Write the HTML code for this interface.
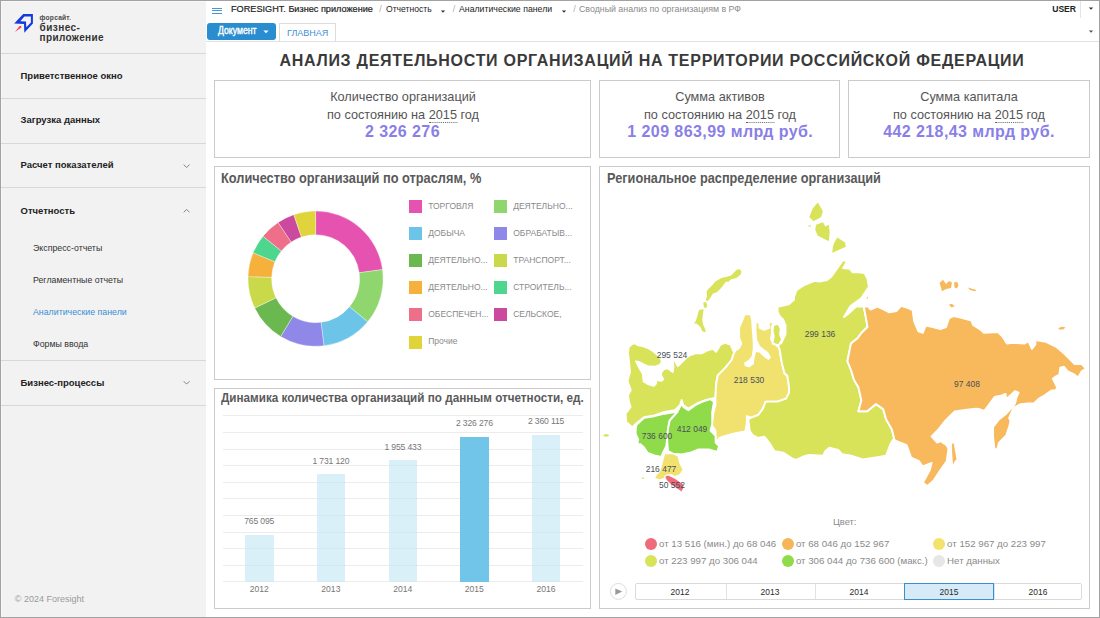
<!DOCTYPE html>
<html><head><meta charset="utf-8"><style>
html,body{margin:0;padding:0;}
body{width:1100px;height:618px;overflow:hidden;position:relative;background:#fff;font-family:"Liberation Sans", sans-serif;}
.t{position:absolute;white-space:nowrap;font-family:"Liberation Sans", sans-serif;}
.r{position:absolute;}
svg.r{overflow:visible;}
</style></head><body>
<div class="r" style="left:0px;top:0px;width:1100px;height:618px;background:#fff;"></div>
<div class="r" style="left:0px;top:0px;width:206px;height:618px;background:#f2f2f2;"></div>
<div class="r" style="left:1px;top:1px;width:1px;height:616px;background:#f8f8f8;"></div>
<div class="r" style="left:1px;top:1px;width:205px;height:1px;background:#f8f8f8;"></div>
<div class="r" style="left:1px;top:53px;width:205px;height:1px;background:#d8d8dc;"></div>
<div class="r" style="left:1px;top:98px;width:205px;height:1px;background:#d8d8dc;"></div>
<div class="r" style="left:1px;top:143px;width:205px;height:1px;background:#d8d8dc;"></div>
<div class="r" style="left:1px;top:187px;width:205px;height:1px;background:#d8d8dc;"></div>
<div class="r" style="left:1px;top:360px;width:205px;height:1px;background:#d8d8dc;"></div>
<div class="r" style="left:1px;top:405px;width:205px;height:1px;background:#d8d8dc;"></div>
<svg class="r" style="left:10px;top:10px" width="30" height="30" viewBox="10 10 30 30">
<path fill-rule="evenodd" fill="#1439dc" d="M14.2,23.5 L23.2,14 L32.9,14 L32.9,23.4 L24.3,32.7 L24,24.1 Z M20.3,21.2 L24.4,16.4 L30.9,16.4 L30.9,22.6 L26.3,27.3 L26,21.6 Z"/>
<path d="M15.0,31.9 L19.1,26.5 Q21.6,24.7 21.4,27.6 Z" fill="#ff3d6e"/>
</svg>
<div class="t" style="top:13.96px;font-size:6.7px;line-height:8.04px;font-weight:bold;color:#4a4a4a;letter-spacing:0.2px;left:39.6px;">форсайт<span style="color:#ff3d6e">.</span></div>
<div class="t" style="top:21.93px;font-size:10px;line-height:12.0px;font-weight:bold;color:#333;letter-spacing:0.45px;left:39.6px;">бизнес-</div>
<div class="t" style="top:31.54px;font-size:10px;line-height:12.0px;font-weight:bold;color:#333;letter-spacing:0.35px;left:39.6px;">приложение</div>
<div class="t" style="top:70.21px;font-size:9.5px;line-height:11.4px;font-weight:bold;color:#222;left:20.5px;">Приветственное окно</div>
<div class="t" style="top:114.41px;font-size:9.5px;line-height:11.4px;font-weight:bold;color:#222;left:20.5px;">Загрузка данных</div>
<div class="t" style="top:159.11px;font-size:9.5px;line-height:11.4px;font-weight:bold;color:#222;left:20.5px;">Расчет показателей</div>
<div class="t" style="top:204.61px;font-size:9.5px;line-height:11.4px;font-weight:bold;color:#222;left:20.5px;">Отчетность</div>
<div class="t" style="top:243.27px;font-size:8.8px;line-height:10.56px;font-weight:normal;color:#333;left:33px;">Экспресс-отчеты</div>
<div class="t" style="top:275.07px;font-size:8.8px;line-height:10.56px;font-weight:normal;color:#333;left:33px;">Регламентные отчеты</div>
<div class="t" style="top:306.87px;font-size:8.8px;line-height:10.56px;font-weight:normal;color:#3a8ed3;left:33px;">Аналитические панели</div>
<div class="t" style="top:339.47px;font-size:8.8px;line-height:10.56px;font-weight:normal;color:#333;left:33px;">Формы ввода</div>
<div class="t" style="top:376.81px;font-size:9.5px;line-height:11.4px;font-weight:bold;color:#222;left:20.5px;">Бизнес-процессы</div>
<svg class="r" style="left:0;top:0" width="206" height="618"><path d="M183.7,164.6 L186.6,167.5 L189.5,164.6" fill="none" stroke="#7c7c7c" stroke-width="0.95"/></svg>
<svg class="r" style="left:0;top:0" width="206" height="618"><path d="M183.7,212.3 L186.6,209.4 L189.5,212.3" fill="none" stroke="#7c7c7c" stroke-width="0.95"/></svg>
<svg class="r" style="left:0;top:0" width="206" height="618"><path d="M183.7,381.20000000000005 L186.6,384.1 L189.5,381.20000000000005" fill="none" stroke="#7c7c7c" stroke-width="0.95"/></svg>
<div class="t" style="top:594.08px;font-size:9px;line-height:10.8px;font-weight:normal;color:#9a9a9a;left:14.8px;">© 2024 Foresight</div>
<div class="r" style="left:212px;top:7.5px;width:10px;height:1px;background:#4598d8;"></div>
<div class="r" style="left:212px;top:10.1px;width:10px;height:1px;background:#4598d8;"></div>
<div class="r" style="left:212px;top:12.7px;width:10px;height:1px;background:#4598d8;"></div>
<div class="t" style="top:3.50px;font-size:9.3px;line-height:11.16px;font-weight:normal;color:#1e1e1e;left:231.3px;transform:scaleX(0.983);transform-origin:left 0;-webkit-text-stroke:0.2px #1e1e1e;">FORESIGHT. Бизнес приложение</div>
<div class="t" style="top:3.57px;font-size:8.8px;line-height:10.56px;font-weight:normal;color:#aaa;left:379.2px;">/</div>
<div class="t" style="top:3.00px;font-size:9.4px;line-height:11.28px;font-weight:normal;color:#222;left:386.2px;transform:scaleX(0.915);transform-origin:left 0;">Отчетность</div>
<svg class="r" style="left:440.3px;top:9px" width="6" height="6"><path d="M0.7999999999999998,1.6 L5.2,1.6 L3,3.8000000000000003 Z" fill="#333"/></svg>
<div class="t" style="top:3.57px;font-size:8.8px;line-height:10.56px;font-weight:normal;color:#aaa;left:452.7px;">/</div>
<div class="t" style="top:3.00px;font-size:9.4px;line-height:11.28px;font-weight:normal;color:#222;left:459.3px;transform:scaleX(0.932);transform-origin:left 0;">Аналитические панели</div>
<svg class="r" style="left:560.5px;top:9px" width="6" height="6"><path d="M0.7999999999999998,1.6 L5.2,1.6 L3,3.8000000000000003 Z" fill="#333"/></svg>
<div class="t" style="top:3.57px;font-size:8.8px;line-height:10.56px;font-weight:normal;color:#aaa;left:573.2px;">/</div>
<div class="t" style="top:3.00px;font-size:9.4px;line-height:11.28px;font-weight:normal;color:#8a8a8a;left:579.4px;transform:scaleX(0.94);transform-origin:left 0;">Сводный анализ по организациям в РФ</div>
<div class="t" style="top:4.18px;font-size:9px;line-height:10.8px;font-weight:bold;color:#222;left:275.79999999999995px;width:800px;text-align:right;transform:scaleX(0.95);transform-origin:right 0;">USER</div>
<div class="r" style="left:1080px;top:0px;width:1px;height:18px;background:#e4e4e4;"></div>
<svg class="r" style="left:1087.5px;top:6.4px" width="6" height="6"><path d="M0.7999999999999998,1.6 L5.2,1.6 L3,3.8000000000000003 Z" fill="#333"/></svg>
<svg class="r" style="left:1087.5px;top:29.200000000000003px" width="6" height="6"><path d="M0.7999999999999998,1.6 L5.2,1.6 L3,3.8000000000000003 Z" fill="#555"/></svg>
<div class="r" style="left:207px;top:23px;width:69px;height:17px;background:#2a8dd0;border-radius:3px;"></div>
<div class="t" style="top:25.25px;font-size:10.2px;line-height:12.24px;font-weight:normal;color:#fff;left:217.9px;transform:scaleX(0.852);transform-origin:left 0;-webkit-text-stroke:0.4px #fff;">Документ</div>
<svg class="r" style="left:262.5px;top:28.8px" width="6" height="6"><path d="M0.3999999999999999,1.6 L5.6,1.6 L3,4.2 Z" fill="#fff"/></svg>
<div class="r" style="left:278.5px;top:23.4px;width:57px;height:18px;background:#fff;border:1px solid #dcdcdc;border-bottom:none;box-sizing:border-box;"></div>
<div class="t" style="top:27.21px;font-size:9.6px;line-height:11.52px;font-weight:normal;color:#3f8fd4;left:286.6px;transform:scaleX(0.94);transform-origin:left 0;">ГЛАВНАЯ</div>
<div class="r" style="left:206px;top:41px;width:893px;height:1px;background:#e2e2e2;"></div>
<div class="t" style="top:50.56px;font-size:16px;line-height:19.2px;font-weight:bold;color:#3a3a3a;letter-spacing:0.72px;left:252px;width:800px;text-align:center;">АНАЛИЗ ДЕЯТЕЛЬНОСТИ ОРГАНИЗАЦИЙ НА ТЕРРИТОРИИ РОССИЙСКОЙ ФЕДЕРАЦИИ</div>
<div class="r" style="left:214px;top:80px;width:377px;height:78px;border:1px solid #cbcbcb;box-sizing:border-box;"></div>
<div class="r" style="left:599px;top:80px;width:241px;height:78px;border:1px solid #cbcbcb;box-sizing:border-box;"></div>
<div class="r" style="left:848px;top:80px;width:242px;height:78px;border:1px solid #cbcbcb;box-sizing:border-box;"></div>
<div class="t" style="top:88.61px;font-size:13.3px;line-height:15.96px;font-weight:normal;color:#555;left:2.5px;width:800px;text-align:center;transform:scaleX(0.955);transform-origin:center 0;">Количество организаций</div>
<div class="t" style="top:106.81px;font-size:13.3px;line-height:15.96px;font-weight:normal;color:#555;left:2.5px;width:800px;text-align:center;transform:scaleX(0.955);transform-origin:center 0;">по состоянию на <span style="border-bottom:1px dotted #666;padding-bottom:0px">2015</span> год</div>
<div class="t" style="top:121.86px;font-size:16px;line-height:19.2px;font-weight:bold;color:#8a7fe6;letter-spacing:0.42px;left:2.5px;width:800px;text-align:center;">2 326 276</div>
<div class="t" style="top:88.61px;font-size:13.3px;line-height:15.96px;font-weight:normal;color:#555;left:320.29999999999995px;width:800px;text-align:center;transform:scaleX(0.955);transform-origin:center 0;">Сумма активов</div>
<div class="t" style="top:106.81px;font-size:13.3px;line-height:15.96px;font-weight:normal;color:#555;left:320.29999999999995px;width:800px;text-align:center;transform:scaleX(0.955);transform-origin:center 0;">по состоянию на <span style="border-bottom:1px dotted #666;padding-bottom:0px">2015</span> год</div>
<div class="t" style="top:121.86px;font-size:16px;line-height:19.2px;font-weight:bold;color:#8a7fe6;letter-spacing:0.42px;left:320.29999999999995px;width:800px;text-align:center;">1 209 863,99 млрд руб.</div>
<div class="t" style="top:88.61px;font-size:13.3px;line-height:15.96px;font-weight:normal;color:#555;left:569px;width:800px;text-align:center;transform:scaleX(0.955);transform-origin:center 0;">Сумма капитала</div>
<div class="t" style="top:106.81px;font-size:13.3px;line-height:15.96px;font-weight:normal;color:#555;left:569px;width:800px;text-align:center;transform:scaleX(0.955);transform-origin:center 0;">по состоянию на <span style="border-bottom:1px dotted #666;padding-bottom:0px">2015</span> год</div>
<div class="t" style="top:121.86px;font-size:16px;line-height:19.2px;font-weight:bold;color:#8a7fe6;letter-spacing:0.42px;left:569px;width:800px;text-align:center;">442 218,43 млрд руб.</div>
<div class="r" style="left:214px;top:166px;width:377px;height:214px;border:1px solid #cbcbcb;box-sizing:border-box;"></div>
<div class="r" style="left:214px;top:388px;width:377px;height:221px;border:1px solid #cbcbcb;box-sizing:border-box;"></div>
<div class="r" style="left:599px;top:166px;width:491px;height:443px;border:1px solid #cbcbcb;box-sizing:border-box;"></div>
<div class="t" style="top:170.45px;font-size:14px;line-height:16.8px;font-weight:bold;color:#5a5a5a;left:220.6px;transform:scaleX(0.9125);transform-origin:left 0;">Количество организаций по отраслям, %</div>
<div class="t" style="top:390.96px;font-size:12.3px;line-height:14.76px;font-weight:bold;color:#5a5a5a;left:220.6px;transform:scaleX(0.951);transform-origin:left 0;">Динамика количества организаций по данным отчетности, ед.</div>
<div class="t" style="top:170.45px;font-size:14px;line-height:16.8px;font-weight:bold;color:#5a5a5a;left:606.8px;transform:scaleX(0.9096);transform-origin:left 0;">Региональное распределение организаций</div>
<svg class="r" style="left:0;top:0" width="1100" height="618"><path d="M315.60,211.05 A67.6,67.6 0 0 1 382.59,269.59 L359.20,272.75 A44.0,44.0 0 0 0 315.60,234.65 Z" fill="#e552b0" stroke="#fff" stroke-width="0.35"/><path d="M382.59,269.59 A67.6,67.6 0 0 1 367.69,321.74 L349.50,306.70 A44.0,44.0 0 0 0 359.20,272.75 Z" fill="#8fd66e" stroke="#fff" stroke-width="0.35"/><path d="M367.69,321.74 A67.6,67.6 0 0 1 323.96,345.73 L321.04,322.31 A44.0,44.0 0 0 0 349.50,306.70 Z" fill="#6cc4e8" stroke="#fff" stroke-width="0.35"/><path d="M323.96,345.73 A67.6,67.6 0 0 1 280.68,336.53 L292.87,316.33 A44.0,44.0 0 0 0 321.04,322.31 Z" fill="#8f88e8" stroke="#fff" stroke-width="0.35"/><path d="M280.68,336.53 A67.6,67.6 0 0 1 254.74,308.07 L275.99,297.80 A44.0,44.0 0 0 0 292.87,316.33 Z" fill="#6ab84f" stroke="#fff" stroke-width="0.35"/><path d="M254.74,308.07 A67.6,67.6 0 0 1 248.03,276.64 L271.62,277.34 A44.0,44.0 0 0 0 275.99,297.80 Z" fill="#c9d94a" stroke="#fff" stroke-width="0.35"/><path d="M248.03,276.64 A67.6,67.6 0 0 1 253.15,252.78 L274.95,261.81 A44.0,44.0 0 0 0 271.62,277.34 Z" fill="#f6b03c" stroke="#fff" stroke-width="0.35"/><path d="M253.15,252.78 A67.6,67.6 0 0 1 262.99,236.20 L281.36,251.02 A44.0,44.0 0 0 0 274.95,261.81 Z" fill="#4fd68e" stroke="#fff" stroke-width="0.35"/><path d="M262.99,236.20 A67.6,67.6 0 0 1 278.09,222.41 L291.19,242.04 A44.0,44.0 0 0 0 281.36,251.02 Z" fill="#ee6f8a" stroke="#fff" stroke-width="0.35"/><path d="M278.09,222.41 A67.6,67.6 0 0 1 293.81,214.66 L301.42,237.00 A44.0,44.0 0 0 0 291.19,242.04 Z" fill="#cc4a9e" stroke="#fff" stroke-width="0.35"/><path d="M293.81,214.66 A67.6,67.6 0 0 1 315.60,211.05 L315.60,234.65 A44.0,44.0 0 0 0 301.42,237.00 Z" fill="#e0d43a" stroke="#fff" stroke-width="0.35"/></svg>
<div class="r" style="left:409px;top:200.0px;width:13px;height:13px;background:#e552b0;"></div>
<div class="t" style="top:200.85px;font-size:8.5px;line-height:10.2px;font-weight:normal;color:#8a8a8a;left:428.2px;">ТОРГОВЛЯ</div>
<div class="r" style="left:494px;top:200.0px;width:13px;height:13px;background:#8fd66e;"></div>
<div class="t" style="top:200.85px;font-size:8.5px;line-height:10.2px;font-weight:normal;color:#8a8a8a;left:513.2px;">ДЕЯТЕЛЬНО...</div>
<div class="r" style="left:409px;top:227.1px;width:13px;height:13px;background:#6cc4e8;"></div>
<div class="t" style="top:227.95px;font-size:8.5px;line-height:10.2px;font-weight:normal;color:#8a8a8a;left:428.2px;">ДОБЫЧА</div>
<div class="r" style="left:494px;top:227.1px;width:13px;height:13px;background:#8f88e8;"></div>
<div class="t" style="top:227.95px;font-size:8.5px;line-height:10.2px;font-weight:normal;color:#8a8a8a;left:513.2px;">ОБРАБАТЫВ...</div>
<div class="r" style="left:409px;top:254.2px;width:13px;height:13px;background:#6ab84f;"></div>
<div class="t" style="top:255.05px;font-size:8.5px;line-height:10.2px;font-weight:normal;color:#8a8a8a;left:428.2px;">ДЕЯТЕЛЬНО...</div>
<div class="r" style="left:494px;top:254.2px;width:13px;height:13px;background:#c9d94a;"></div>
<div class="t" style="top:255.05px;font-size:8.5px;line-height:10.2px;font-weight:normal;color:#8a8a8a;left:513.2px;">ТРАНСПОРТ...</div>
<div class="r" style="left:409px;top:281.3px;width:13px;height:13px;background:#f6b03c;"></div>
<div class="t" style="top:282.15px;font-size:8.5px;line-height:10.2px;font-weight:normal;color:#8a8a8a;left:428.2px;">ДЕЯТЕЛЬНО...</div>
<div class="r" style="left:494px;top:281.3px;width:13px;height:13px;background:#4fd68e;"></div>
<div class="t" style="top:282.15px;font-size:8.5px;line-height:10.2px;font-weight:normal;color:#8a8a8a;left:513.2px;">СТРОИТЕЛЬ...</div>
<div class="r" style="left:409px;top:308.4px;width:13px;height:13px;background:#ee6f8a;"></div>
<div class="t" style="top:309.25px;font-size:8.5px;line-height:10.2px;font-weight:normal;color:#8a8a8a;left:428.2px;">ОБЕСПЕЧЕН...</div>
<div class="r" style="left:494px;top:308.4px;width:13px;height:13px;background:#cc4a9e;"></div>
<div class="t" style="top:309.25px;font-size:8.5px;line-height:10.2px;font-weight:normal;color:#8a8a8a;left:513.2px;">СЕЛЬСКОЕ,</div>
<div class="r" style="left:409px;top:335.5px;width:13px;height:13px;background:#e0d43a;"></div>
<div class="t" style="top:336.35px;font-size:8.5px;line-height:10.2px;font-weight:normal;color:#8a8a8a;left:428.2px;">Прочие</div>
<div class="r" style="left:223px;top:415px;width:360px;height:1px;background:#ececec;"></div>
<div class="r" style="left:223px;top:432px;width:360px;height:1px;background:#ececec;"></div>
<div class="r" style="left:223px;top:449px;width:360px;height:1px;background:#ececec;"></div>
<div class="r" style="left:223px;top:465px;width:360px;height:1px;background:#ececec;"></div>
<div class="r" style="left:223px;top:482px;width:360px;height:1px;background:#ececec;"></div>
<div class="r" style="left:223px;top:498px;width:360px;height:1px;background:#ececec;"></div>
<div class="r" style="left:223px;top:515px;width:360px;height:1px;background:#ececec;"></div>
<div class="r" style="left:223px;top:532px;width:360px;height:1px;background:#ececec;"></div>
<div class="r" style="left:223px;top:548px;width:360px;height:1px;background:#ececec;"></div>
<div class="r" style="left:223px;top:565px;width:360px;height:1px;background:#ececec;"></div>
<div class="r" style="left:223px;top:581px;width:360px;height:1px;background:#ececec;"></div>
<div class="r" style="left:244.9px;top:534.5px;width:28.7px;height:47.4px;background:rgba(196,230,245,0.62);"></div>
<div class="t" style="top:515.96px;font-size:8.6px;line-height:10.32px;font-weight:normal;color:#777;letter-spacing:-0.15px;left:-140.75px;width:800px;text-align:center;">765 095</div>
<div class="t" style="top:584.06px;font-size:8.6px;line-height:10.32px;font-weight:normal;color:#777;left:-140.75px;width:800px;text-align:center;">2012</div>
<div class="r" style="left:316.5px;top:474.4px;width:28.7px;height:107.5px;background:rgba(196,230,245,0.62);"></div>
<div class="t" style="top:455.86px;font-size:8.6px;line-height:10.32px;font-weight:normal;color:#777;letter-spacing:-0.15px;left:-69.14999999999998px;width:800px;text-align:center;">1 731 120</div>
<div class="t" style="top:584.06px;font-size:8.6px;line-height:10.32px;font-weight:normal;color:#777;left:-69.14999999999998px;width:800px;text-align:center;">2013</div>
<div class="r" style="left:388.5px;top:460.1px;width:28.7px;height:121.8px;background:rgba(196,230,245,0.62);"></div>
<div class="t" style="top:441.56px;font-size:8.6px;line-height:10.32px;font-weight:normal;color:#777;letter-spacing:-0.15px;left:2.8500000000000227px;width:800px;text-align:center;">1 955 433</div>
<div class="t" style="top:584.06px;font-size:8.6px;line-height:10.32px;font-weight:normal;color:#777;left:2.8500000000000227px;width:800px;text-align:center;">2014</div>
<div class="r" style="left:460.0px;top:436.8px;width:28.7px;height:145.1px;background:#70c5e8;"></div>
<div class="t" style="top:418.26px;font-size:8.6px;line-height:10.32px;font-weight:normal;color:#777;letter-spacing:-0.15px;left:74.35000000000002px;width:800px;text-align:center;">2 326 276</div>
<div class="t" style="top:584.06px;font-size:8.6px;line-height:10.32px;font-weight:normal;color:#777;left:74.35000000000002px;width:800px;text-align:center;">2015</div>
<div class="r" style="left:531.7px;top:435.0px;width:28.7px;height:146.9px;background:rgba(196,230,245,0.62);"></div>
<div class="t" style="top:416.46px;font-size:8.6px;line-height:10.32px;font-weight:normal;color:#777;letter-spacing:-0.15px;left:146.05000000000007px;width:800px;text-align:center;">2 360 115</div>
<div class="t" style="top:584.06px;font-size:8.6px;line-height:10.32px;font-weight:normal;color:#777;left:146.05000000000007px;width:800px;text-align:center;">2016</div>
<svg class="r" style="left:0;top:0" width="1100" height="618"><polygon points="628.6,347.3 631.5,344.4 634.7,343.2 637.9,345.3 642.8,346.1 648.4,348.1 653.3,351.3 658.1,355.4 661.4,359.4 661.8,361.5 660.4,364.7 654.6,366.8 647.3,366.1 640.0,362.5 636.0,361.3 640.0,369.0 642.9,374.1 643.6,381.4 648.7,384.3 653.8,385.8 656.0,383.6 656.0,380.0 661.8,380.7 663.3,379.2 661.1,375.6 661.1,372.7 664.0,369.0 667.7,368.3 670.6,370.5 672.7,372.0 673.5,366.8 672.7,359.6 674.2,359.2 677.8,366.1 680.8,363.2 683.7,360.3 686.6,357.4 690.0,355.2 695.7,353.3 701.5,353.3 707.4,350.4 713.2,348.9 716.1,351.8 720.5,344.6 724.8,342.8 730.7,344.6 734.0,352.7 731.6,360.0 725.9,367.2 717.8,375.3 716.2,383.4 715.4,398.0 712.2,398.4 705.4,400.1 696.9,403.5 688.4,408.6 683.3,405.2 681.6,400.1 679.9,405.2 674.8,410.3 664.6,412.0 654.4,415.4 644.2,417.1 635.7,423.9 632.3,427.3 626.3,422.2 625.5,413.7 630.6,406.9 628.9,401.8 628.0,395.0 630.8,390.0 627.5,381.0 630.0,372.0 629.0,362.0 628.0,353.0" fill="#d8e35a" stroke="#fff" stroke-width="1.9" stroke-linejoin="round"/><polygon points="739.5,268.9 741.5,271.5 740.5,274.7 736.3,278.0 731.1,279.2 728.5,281.8 725.9,281.8 721.4,287.7 716.8,292.2 713.0,293.5 710.4,297.4 707.8,301.3 705.8,300.0 707.1,296.1 706.5,291.6 708.4,289.0 713.0,284.4 714.9,281.8 721.4,278.0 725.9,277.0 731.1,275.4 735.0,271.5 736.3,269.9" fill="#d8e35a" stroke="none" stroke-width="0" stroke-linejoin="round"/><polygon points="703.3,302.5 706.0,302.1 707.1,305.0 706.5,307.9 704.0,307.5" fill="#d8e35a" stroke="none" stroke-width="0" stroke-linejoin="round"/><polygon points="699.0,309.9 703.6,309.2 702.9,314.4 702.3,319.6 702.9,324.1 705.5,329.9 705.5,332.2 702.3,331.2 700.3,326.7 696.5,323.4 693.9,323.4 695.8,320.9 697.8,314.4" fill="#d8e35a" stroke="none" stroke-width="0" stroke-linejoin="round"/><polygon points="603.4,435.0 606.0,434.1 609.3,435.0 608.0,436.6 604.0,436.6" fill="#d8e35a" stroke="none" stroke-width="0" stroke-linejoin="round"/><polygon points="744.7,314.1 751.0,314.6 752.0,320.0 757.2,322.0 759.4,323.1 759.4,327.6 764.0,329.9 769.6,327.6 768.5,324.3 770.8,320.9 773.0,323.1 771.9,327.6 771.9,333.3 771.0,339.0 773.0,342.4 778.7,346.9 779.8,350.3 781.0,358.2 782.1,363.9 784.4,373.0 787.4,376.0 789.0,386.6 789.0,392.9 786.1,398.7 777.4,401.6 765.7,401.6 762.8,408.9 758.4,414.8 751.2,417.7 746.8,416.2 746.8,423.5 745.3,431.5 736.6,433.0 727.9,435.1 719.1,438.0 716.2,443.9 715.5,438.0 715.5,430.8 711.8,425.0 713.3,413.3 715.5,404.6 715.4,398.0 716.2,383.4 717.8,375.3 725.9,367.2 731.6,360.0 734.0,352.7 735.7,350.3 739.1,348.0 741.3,343.5 739.1,337.8 739.1,327.6 742.5,319.7" fill="#f1e270" stroke="#fff" stroke-width="1.9" stroke-linejoin="round"/><polygon points="752.2,319.0 756.8,320.5 756.3,330.0 757.2,340.0 760.0,346.0 764.0,349.3 768.0,352.0 771.0,357.5 768.5,360.0 764.0,357.0 759.4,352.5 756.0,352.0 754.5,358.0 753.8,364.0 749.3,367.5 744.7,366.0 744.2,362.8 748.5,360.0 751.8,356.0 752.8,348.0 752.5,338.0 751.8,330.0 751.3,322.0" fill="#fff" stroke="none" stroke-width="0" stroke-linejoin="round"/><polygon points="843.2,259.6 846.6,262.1 843.2,268.1 850.0,268.9 852.6,272.3 858.7,272.4 864.6,273.1 867.5,278.9 868.9,286.9 861.6,297.9 855.8,302.2 850.0,306.6 844.0,317.0 848.0,314.0 856.0,306.5 863.8,306.6 866.0,318.2 867.5,327.0 861.6,332.8 857.3,338.6 851.0,343.4 849.2,352.3 847.4,361.2 851.0,370.0 854.1,380.0 858.4,387.3 861.4,400.4 858.4,411.3 867.2,411.3 875.9,404.0 883.2,409.1 886.1,419.3 891.9,429.5 894.1,438.2 890.5,444.1 886.1,455.7 877.4,457.2 862.8,459.4 851.2,455.7 842.4,454.3 838.1,449.9 829.3,447.7 825.0,451.4 823.5,455.7 808.9,455.0 803.6,456.3 796.3,459.9 791.9,458.4 783.2,452.6 774.5,451.2 770.1,443.9 764.3,436.6 758.4,438.0 752.6,435.1 749.7,430.8 748.3,419.1 751.2,417.7 758.4,414.8 762.8,408.9 765.7,401.6 777.4,401.6 786.1,398.7 789.0,392.9 789.0,386.6 787.4,376.0 784.4,373.0 782.1,363.9 781.0,358.2 779.8,350.3 778.7,346.9 773.0,342.4 776.0,340.0 781.0,343.5 783.2,339.0 785.5,334.4 785.5,325.4 783.2,319.7 779.8,316.3 777.6,311.8 777.6,306.7 788.7,304.2 794.0,299.8 794.0,297.0 796.5,290.1 804.2,285.0 814.4,280.8 819.5,281.6 827.1,280.0 831.4,276.5 837.3,268.1" fill="#d8e35a" stroke="#fff" stroke-width="1.9" stroke-linejoin="round"/><polygon points="773.3,325.0 778.5,323.8 780.8,329.0 780.0,334.0 782.0,340.0 778.5,345.5 772.6,343.5 773.6,336.0 772.6,331.0" fill="#d8e35a" stroke="#fff" stroke-width="1.9" stroke-linejoin="round"/><polygon points="817.8,202.6 822.9,211.1 821.2,217.1 813.5,221.3 809.3,217.1 812.7,208.6" fill="#d8e35a" stroke="none" stroke-width="0" stroke-linejoin="round"/><polygon points="816.1,224.7 822.9,222.2 825.4,226.4 828.8,224.7 829.7,232.4 828.8,240.9 826.3,240.0 817.8,235.8 815.2,229.8" fill="#d8e35a" stroke="none" stroke-width="0" stroke-linejoin="round"/><polygon points="837.3,237.5 845.0,242.6 845.8,246.8 839.8,249.4 832.2,252.8 833.0,246.0 834.8,241.7" fill="#d8e35a" stroke="none" stroke-width="0" stroke-linejoin="round"/><polygon points="808.4,225.2 811.0,225.6 811.0,226.6 808.4,226.4" fill="#d8e35a" stroke="none" stroke-width="0" stroke-linejoin="round"/><polygon points="863.8,306.6 868.2,306.6 870.4,309.5 877.7,306.6 883.5,309.5 889.3,312.4 896.6,311.0 901.0,305.9 908.2,308.1 912.6,310.2 914.1,321.2 918.4,331.4 922.8,332.8 925.7,325.5 933.0,327.0 940.3,329.2 946.1,327.0 949.0,318.2 953.4,316.1 960.7,317.5 971.4,320.5 973.1,324.9 980.2,329.4 983.8,332.9 998.0,332.0 1002.5,336.5 1006.9,343.6 1012.3,342.7 1024.7,343.6 1028.3,340.9 1031.9,348.9 1035.4,344.5 1035.4,340.0 1046.1,341.8 1056.8,347.2 1063.9,353.4 1069.2,358.7 1074.6,364.1 1081.7,364.1 1086.1,368.5 1081.7,371.2 1078.1,377.4 1074.6,374.7 1067.4,371.2 1063.9,366.7 1060.3,367.6 1059.4,374.7 1055.7,376.6 1052.8,378.7 1057.2,387.5 1055.7,390.4 1051.4,390.4 1045.5,394.8 1038.3,399.1 1033.9,403.5 1028.1,403.5 1020.8,404.2 1013.5,407.9 1009.1,418.1 1010.6,421.0 1009.1,426.8 1006.2,435.5 998.9,442.8 997.5,448.6 994.6,450.1 993.1,437.0 993.1,426.8 998.9,419.5 1006.2,413.7 1013.5,405.7 1015.0,403.5 1016.4,397.7 1018.6,392.6 1015.0,391.1 1012.0,394.0 1006.2,399.1 1005.5,394.0 1001.8,395.5 994.6,397.0 988.7,405.0 984.4,410.8 980.0,409.3 976.1,408.7 967.2,409.6 954.7,411.4 945.8,420.2 938.7,429.1 931.6,436.3 936.9,442.5 944.9,439.8 942.3,442.5 946.7,445.2 948.5,448.7 946.7,461.2 940.5,470.1 933.4,480.7 927.2,486.1 922.7,482.5 924.5,479.9 929.8,470.1 931.6,463.0 922.7,466.5 919.1,461.2 911.1,457.6 906.7,445.2 897.8,441.6 894.2,439.8 894.1,438.2 891.9,429.5 886.1,419.3 883.2,409.1 875.9,404.0 867.2,411.3 858.4,411.3 861.4,400.4 858.4,387.3 854.1,380.0 851.0,370.0 847.4,361.2 849.2,352.3 851.0,343.4 857.3,338.6 861.6,332.8 867.5,327.0 866.0,318.2" fill="#f7b95c" stroke="#fff" stroke-width="1.9" stroke-linejoin="round"/><polygon points="952.1,443.4 953.8,443.4 956.5,459.4 954.7,461.2 953.0,464.7 952.1,452.3" fill="#f7b95c" stroke="none" stroke-width="0" stroke-linejoin="round"/><polygon points="939.6,283.0 943.0,279.7 946.0,284.0 949.0,281.0 952.0,282.5 951.0,288.0 946.0,289.0 942.0,291.3" fill="#f7b95c" stroke="none" stroke-width="0" stroke-linejoin="round"/><polygon points="954.1,282.5 957.0,281.8 958.5,285.0 957.0,288.4 954.5,287.5" fill="#f7b95c" stroke="none" stroke-width="0" stroke-linejoin="round"/><polygon points="949.0,304.5 952.0,303.7 954.8,306.5 951.0,307.3" fill="#f7b95c" stroke="none" stroke-width="0" stroke-linejoin="round"/><polygon points="967.8,287.4 972.0,288.8 976.5,290.0 975.0,291.3 970.0,290.0" fill="#f7b95c" stroke="none" stroke-width="0" stroke-linejoin="round"/><polygon points="1058.5,328.0 1062.0,326.7 1065.7,327.5 1063.0,329.4 1059.0,329.4" fill="#f7b95c" stroke="none" stroke-width="0" stroke-linejoin="round"/><polygon points="866.8,297.2 868.0,297.2 868.0,298.4 866.8,298.4" fill="#f7b95c" stroke="none" stroke-width="0" stroke-linejoin="round"/><polygon points="636.5,424.7 644.2,417.9 654.4,416.2 664.6,413.7 674.8,412.0 677.3,412.0 669.7,420.5 668.0,429.0 667.1,439.2 666.3,446.0 662.9,452.8 661.2,457.0 654.4,455.3 647.6,452.8 644.2,447.7 640.8,444.3 637.4,444.3 638.2,439.2 635.7,434.1 635.7,429.0" fill="#8fdb4a" stroke="#fff" stroke-width="1.9" stroke-linejoin="round"/><polygon points="677.3,412.0 681.6,403.5 683.3,406.9 688.4,410.3 695.2,405.2 702.0,401.8 710.5,399.2 713.9,401.8 712.2,412.0 712.2,423.9 710.5,430.7 715.6,435.8 715.6,442.6 719.0,446.0 717.3,452.0 708.8,449.4 698.6,449.4 690.1,452.8 681.6,454.5 673.1,453.6 668.0,451.1 667.1,439.2 668.0,429.0 669.7,420.5" fill="#8fdb4a" stroke="#fff" stroke-width="1.9" stroke-linejoin="round"/><polygon points="664.6,453.6 673.1,453.6 678.2,456.2 679.9,463.0 683.3,469.8 679.9,474.9 674.8,476.6 671.4,474.9 668.0,474.9 664.6,476.6 664.6,478.3 659.5,480.0 654.4,478.3 656.1,474.9 659.5,471.5 661.2,466.4 662.9,459.6" fill="#f1e270" stroke="#fff" stroke-width="1.3" stroke-linejoin="round"/><polygon points="664.6,476.6 668.0,474.9 674.8,478.3 679.9,481.7 683.3,484.2 684.1,487.6 681.6,491.9 676.5,488.5 671.4,485.1 666.3,480.0" fill="#ef6b7b" stroke="#fff" stroke-width="1.0" stroke-linejoin="round"/><polygon points="641.6,477.6 644.2,477.4 644.0,479.1 642.0,479.1" fill="#f1e270" stroke="none" stroke-width="0" stroke-linejoin="round"/></svg>
<div class="t" style="top:348.81px;font-size:9.5px;line-height:11.4px;font-weight:normal;color:#4a4f5a;left:271.5px;width:800px;text-align:center;transform:scaleX(0.89);transform-origin:center 0;">295 524</div>
<div class="t" style="top:374.11px;font-size:9.5px;line-height:11.4px;font-weight:normal;color:#4a4f5a;left:349.20000000000005px;width:800px;text-align:center;transform:scaleX(0.89);transform-origin:center 0;">218 530</div>
<div class="t" style="top:328.21px;font-size:9.5px;line-height:11.4px;font-weight:normal;color:#4a4f5a;left:419.9px;width:800px;text-align:center;transform:scaleX(0.89);transform-origin:center 0;">299 136</div>
<div class="t" style="top:378.21px;font-size:9.5px;line-height:11.4px;font-weight:normal;color:#4a4f5a;left:566.9px;width:800px;text-align:center;transform:scaleX(0.89);transform-origin:center 0;">97 408</div>
<div class="t" style="top:430.21px;font-size:9.5px;line-height:11.4px;font-weight:normal;color:#4a4f5a;left:256.5px;width:800px;text-align:center;transform:scaleX(0.89);transform-origin:center 0;">736 600</div>
<div class="t" style="top:423.01px;font-size:9.5px;line-height:11.4px;font-weight:normal;color:#4a4f5a;left:292.20000000000005px;width:800px;text-align:center;transform:scaleX(0.89);transform-origin:center 0;">412 049</div>
<div class="t" style="top:463.31px;font-size:9.5px;line-height:11.4px;font-weight:normal;color:#4a4f5a;left:260.6px;width:800px;text-align:center;transform:scaleX(0.89);transform-origin:center 0;">216 477</div>
<div class="t" style="top:479.11px;font-size:9.5px;line-height:11.4px;font-weight:normal;color:#4a4f5a;left:271.5px;width:800px;text-align:center;transform:scaleX(0.89);transform-origin:center 0;">50 552</div>
<div class="t" style="top:516.60px;font-size:9.3px;line-height:11.16px;font-weight:normal;color:#8a8a8a;left:444.70000000000005px;width:800px;text-align:center;">Цвет:</div>
<div class="r" style="left:644.7px;top:537.6px;width:12px;height:12px;border-radius:50%;background:#ef6b7b;"></div>
<div class="t" style="top:537.92px;font-size:9.7px;line-height:11.64px;font-weight:normal;color:#8a8a8a;left:659.0px;">от 13 516 (мин.) до 68 046</div>
<div class="r" style="left:781.6px;top:537.6px;width:12px;height:12px;border-radius:50%;background:#f7b55a;"></div>
<div class="t" style="top:537.92px;font-size:9.7px;line-height:11.64px;font-weight:normal;color:#8a8a8a;left:795.9px;">от 68 046 до 152 967</div>
<div class="r" style="left:932.8px;top:537.6px;width:12px;height:12px;border-radius:50%;background:#f2e36e;"></div>
<div class="t" style="top:537.92px;font-size:9.7px;line-height:11.64px;font-weight:normal;color:#8a8a8a;left:947.0999999999999px;">от 152 967 до 223 997</div>
<div class="r" style="left:644.7px;top:554.7px;width:12px;height:12px;border-radius:50%;background:#d8e35a;"></div>
<div class="t" style="top:555.02px;font-size:9.7px;line-height:11.64px;font-weight:normal;color:#8a8a8a;left:659.0px;">от 223 997 до 306 044</div>
<div class="r" style="left:781.6px;top:554.7px;width:12px;height:12px;border-radius:50%;background:#8fdb4a;"></div>
<div class="t" style="top:555.02px;font-size:9.7px;line-height:11.64px;font-weight:normal;color:#8a8a8a;left:795.9px;">от 306 044 до 736 600 (макс.)</div>
<div class="r" style="left:932.8px;top:554.7px;width:12px;height:12px;border-radius:50%;background:#e6e6e6;"></div>
<div class="t" style="top:555.02px;font-size:9.7px;line-height:11.64px;font-weight:normal;color:#8a8a8a;left:947.0999999999999px;">Нет данных</div>
<svg class="r" style="left:608px;top:581px" width="21" height="21"><circle cx="10.4" cy="10.4" r="8" fill="#fff" stroke="#dedede" stroke-width="1"/><path d="M7.3,7.4 L14.2,10.4 L7.3,13.9 Z" fill="#9a9a9a"/></svg>
<div class="r" style="left:634.8px;top:583.2px;width:447.6px;height:16.4px;border:1px solid #dadada;border-radius:2px;box-sizing:border-box;background:#fff;"></div>
<div class="t" style="top:586.21px;font-size:9.6px;line-height:11.52px;font-weight:normal;color:#2a2a2a;left:280.15px;width:800px;text-align:center;transform:scaleX(0.88);transform-origin:center 0;">2012</div>
<div class="r" style="left:725.5px;top:584px;width:1.2px;height:15px;background:#e2e2e2;"></div>
<div class="t" style="top:586.21px;font-size:9.6px;line-height:11.52px;font-weight:normal;color:#2a2a2a;left:370.0px;width:800px;text-align:center;transform:scaleX(0.88);transform-origin:center 0;">2013</div>
<div class="r" style="left:814.5px;top:584px;width:1.2px;height:15px;background:#e2e2e2;"></div>
<div class="t" style="top:586.21px;font-size:9.6px;line-height:11.52px;font-weight:normal;color:#2a2a2a;left:459.35px;width:800px;text-align:center;transform:scaleX(0.88);transform-origin:center 0;">2014</div>
<div class="r" style="left:904.2px;top:583.2px;width:89.39999999999998px;height:16.4px;background:#d7eaf8;border:1px solid #3a8fd0;box-sizing:border-box;"></div>
<div class="t" style="top:586.21px;font-size:9.6px;line-height:11.52px;font-weight:normal;color:#2a2a2a;left:548.9000000000001px;width:800px;text-align:center;transform:scaleX(0.88);transform-origin:center 0;">2015</div>
<div class="r" style="left:993.6px;top:584px;width:1.2px;height:15px;background:#e2e2e2;"></div>
<div class="t" style="top:586.21px;font-size:9.6px;line-height:11.52px;font-weight:normal;color:#2a2a2a;left:638.0px;width:800px;text-align:center;transform:scaleX(0.88);transform-origin:center 0;">2016</div>
<div class="r" style="left:0;top:0;width:1100px;height:618px;border:1px solid #a2a2a2;box-sizing:border-box;"></div>
</body></html>
